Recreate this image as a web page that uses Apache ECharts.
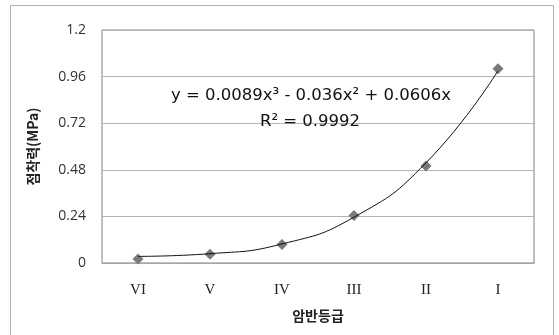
<!DOCTYPE html>
<html><head><meta charset="utf-8">
<script src="https://cdn.jsdelivr.net/npm/echarts@6/dist/echarts.min.js"></script>
<style>html,body{margin:0;padding:0;background:#fff}#c{width:559px;height:335px}</style>
</head><body><div id="c"></div>
<script>
const categories = ['VI', 'V', 'IV', 'III', 'II', 'I'];
const cohesion = [0.02, 0.045, 0.095, 0.245, 0.50, 1.0];
const trendline = [0.034, 0.048, 0.098, 0.236, 0.516, 0.99];
const yTicks = { min: 0, max: 1.2, interval: 0.24 };
const equationText = 'y = 0.0089x³ - 0.036x² + 0.0606x';
const r2Text = 'R² = 0.9992';

const chart = echarts.init(document.getElementById('c'));
chart.setOption({
  animation: false,
  backgroundColor: '#fff',
  grid: { left: 102, top: 30, right: 25, bottom: 72, show: true, borderColor: '#808080', borderWidth: 1 },
  xAxis: {
    type: 'category', data: categories, boundaryGap: true,
    axisLine: { lineStyle: { color: '#a6a6a6' } }, axisTick: { show: false },
    axisLabel: { fontFamily: 'Liberation Serif', fontSize: 15, color: '#222', margin: 20 },
    name: '암반등급', nameLocation: 'middle', nameGap: 46,
    nameTextStyle: { fontFamily: 'Noto Sans CJK KR', fontSize: 14, fontWeight: 'bold', color: '#222' }
  },
  yAxis: {
    type: 'value', min: yTicks.min, max: yTicks.max, interval: yTicks.interval,
    axisLine: { show: false }, axisTick: { show: false },
    splitLine: { lineStyle: { color: '#b4b4b4' } },
    axisLabel: { fontFamily: 'Open Sans', fontSize: 14, color: '#333', margin: 16 },
    name: '점착력(MPa)', nameLocation: 'middle', nameGap: 62, nameRotate: 90,
    nameTextStyle: { fontFamily: 'Noto Sans CJK KR', fontSize: 14, fontWeight: 'bold', color: '#222' }
  },
  graphic: [
    { type: 'rect', shape: { x: 10.5, y: 5.5, width: 543, height: 340 }, style: { fill: 'none', stroke: '#b0b0b0', lineWidth: 1 }, silent: true },
    { type: 'text', x: 311, y: 96, style: { text: equationText, fontFamily: 'DejaVu Sans', fontSize: 16.5, fill: '#111', align: 'center', verticalAlign: 'middle' }, z: 10 },
    { type: 'text', x: 310, y: 122, style: { text: r2Text, fontFamily: 'DejaVu Sans', fontSize: 16.5, fill: '#111', align: 'center', verticalAlign: 'middle' }, z: 10 }
  ],
  series: [
    { type: 'line', data: cohesion, symbol: 'diamond', symbolSize: 11, lineStyle: { width: 0, opacity: 0 },
      itemStyle: { color: '#7a7a7a' }, z: 3 },
    { type: 'line', data: trendline, smooth: 0.5, symbol: 'none', lineStyle: { color: '#111', width: 1 }, z: 4 }
  ]
});
</script></body></html>
